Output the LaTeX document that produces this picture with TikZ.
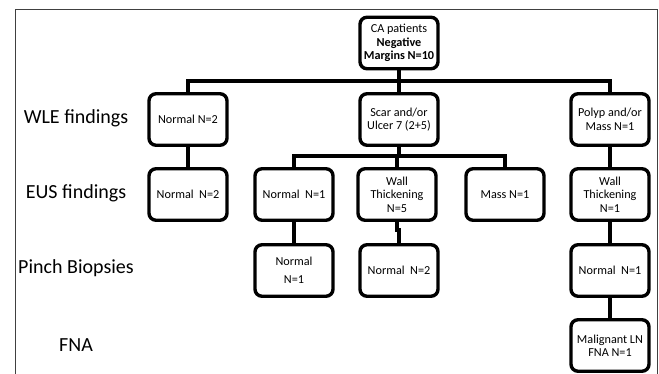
\documentclass[tikz,border=0pt]{standalone}
\usepackage{fontspec}
\setmainfont{Carlito}
\usepackage{tikz}
\usetikzlibrary{calc}

\begin{document}
\begin{tikzpicture}[x=1pt, y=-1pt, line cap=rect,
	box/.style={draw, line width=3.4pt, rounded corners=7pt, minimum width=78pt, minimum height=51.5pt, align=center, inner sep=1pt, font=\fontsize{12.2}{13.4}\selectfont},
	conn/.style={line width=3.4pt},
	rowlabel/.style={font=\fontsize{20}{22}\selectfont}]

	\useasboundingbox (0,0) rectangle (659,374);
	\draw[line width=0.9pt, black!75] (15,374) -- (15,9) -- (657,9) -- (657,374);

	% row labels
	\node[rowlabel] (lwle) at (76,118) {WLE findings};
	\node[rowlabel] (leus) at (76,193) {EUS findings};
	\node[rowlabel] (lpinch) at (76,268) {Pinch Biopsies};
	\node[rowlabel] (lfna) at (76,345) {FNA};

	\node[box] (top) at (399,43) {CA patients\\\textbf{Negative}\\\textbf{Margins N=10}};

	\node[box] (wleA) at (188,119.5) {Normal N=2};
	\node[box] (wleB) at (399,119.5) {Scar and/or\\Ulcer 7 (2+5)};
	\node[box] (wleC) at (610,119.5) {Polyp and/or\\Mass N=1};

	\node[box] (eusA) at (188,194.5) {Normal\ \ N=2};
	\node[box] (eusB) at (294,194.5) {Normal\ \ N=1};
	\node[box] (eusC) at (397,194.5) {Wall\\Thickening\\N=5};
	\node[box] (eusD) at (505,194.5) {Mass N=1};
	\node[box] (eusE) at (610,194.5) {Wall\\Thickening\\N=1};

	\node[box, font=\fontsize{12.2}{18}\selectfont] (pbB) at (294,270.5) {Normal\\N=1};
	\node[box] (pbC) at (399,270.5) {Normal\ \ N=2};
	\node[box] (pbE) at (610,270.5) {Normal\ \ N=1};

	\node[box] (fnaE) at (610,345.5) {Malignant LN\\FNA N=1};

	\coordinate (bus) at (399,81);
	\coordinate (subbus) at (399,156);
	\coordinate (jog) at (397,230);

	\draw[conn] (top.south) -- (bus);
	\draw[conn] (wleA.north) |- (bus) -| (wleC.north);
	\draw[conn] (wleB.north) -- (bus);

	\draw[conn] (wleB.south) -- (subbus);
	\draw[conn] (eusB.north) |- (subbus) -| (eusD.north);
	\draw[conn] (eusC.north) -- (eusC.north |- subbus);

	\draw[conn] (wleA) -- (eusA);
	\draw[conn] (wleC) -- (eusE);
	\draw[conn] (eusE) -- (pbE);
	\draw[conn] (pbE) -- (fnaE);
	\draw[conn] (eusB) -- (pbB);
	\draw[conn] (eusC.south) -- (jog) -- (jog -| pbC.north) -- (pbC.north);

\end{tikzpicture}
\end{document}
